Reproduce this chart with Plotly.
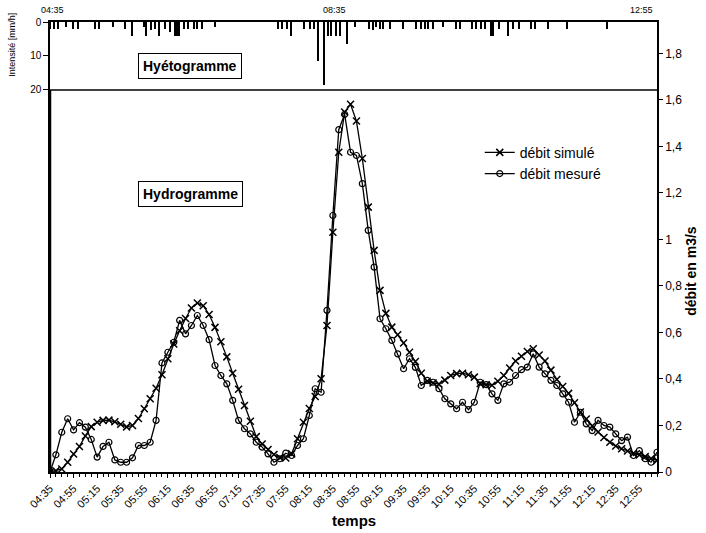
import plotly.graph_objects as go
import pandas as pd

# ---------------- data ----------------
start_time = "2000-01-01 04:35"
n_steps = 104  # 5-minute steps, 04:35 -> 13:10
times = pd.date_range(start_time, periods=n_steps, freq="5min")

debit_simule = [
    0.0, 0.005, 0.013, 0.042, 0.077, 0.11, 0.155, 0.195, 0.214, 0.222,
    0.223, 0.216, 0.205, 0.194, 0.2, 0.23, 0.272, 0.315, 0.36, 0.418,
    0.487, 0.55, 0.607, 0.66, 0.705, 0.727, 0.715, 0.677, 0.622, 0.56,
    0.495, 0.425, 0.356, 0.286, 0.218, 0.152, 0.12, 0.097, 0.075, 0.062,
    0.06, 0.078, 0.143, 0.214, 0.273, 0.325, 0.401, 0.63, 1.031, 1.375,
    1.548, 1.581, 1.509, 1.348, 1.139, 0.953, 0.781, 0.682, 0.623, 0.59,
    0.555, 0.515, 0.475, 0.425, 0.39, 0.383, 0.378, 0.395, 0.415, 0.423,
    0.425, 0.418, 0.408, 0.38, 0.375, 0.373, 0.39, 0.415, 0.447, 0.477,
    0.498, 0.518, 0.53, 0.503, 0.477, 0.438, 0.398, 0.368, 0.338, 0.298,
    0.258, 0.228, 0.198, 0.172, 0.148, 0.128, 0.112, 0.1, 0.09, 0.08,
    0.073, 0.066, 0.058, 0.05,
]

debit_mesure = [
    0.0, 0.074, 0.171, 0.229, 0.181, 0.212, 0.193, 0.14, 0.064, 0.11,
    0.128, 0.052, 0.042, 0.042, 0.061, 0.114, 0.114, 0.128, 0.222, 0.469,
    0.515, 0.558, 0.652, 0.594, 0.63, 0.673, 0.63, 0.569, 0.458, 0.415,
    0.379, 0.308, 0.222, 0.186, 0.164, 0.128, 0.107, 0.078, 0.042, 0.057,
    0.081, 0.071, 0.114, 0.143, 0.243, 0.358, 0.343, 0.695, 1.103, 1.472,
    1.538, 1.375, 1.361, 1.24, 1.039, 0.881, 0.659, 0.616, 0.566, 0.508,
    0.444, 0.487, 0.45, 0.372, 0.394, 0.386, 0.358, 0.315, 0.293, 0.272,
    0.3, 0.268, 0.3, 0.386, 0.376, 0.336, 0.308, 0.379, 0.386, 0.415,
    0.44, 0.451, 0.508, 0.451, 0.422, 0.394, 0.372, 0.336, 0.3, 0.214,
    0.257, 0.207, 0.178, 0.222, 0.2, 0.193, 0.164, 0.135, 0.15, 0.071,
    0.092, 0.057, 0.042, 0.085,
]

hyeto_heure = [
    "04:35", "04:39", "04:42", "04:49", "04:55", "04:59", "05:13", "05:17",
    "05:29", "05:39", "05:45", "05:55", "05:57", "06:01", "06:04", "06:08",
    "06:13", "06:17", "06:21", "06:23", "06:25", "06:29", "06:32", "06:37",
    "06:40", "06:44", "06:55", "07:49", "07:52", "07:56", "08:00", "08:11",
    "08:16", "08:19", "08:23", "08:28", "08:31", "08:34", "08:38", "08:41",
    "08:47", "08:54", "09:06", "09:09", "09:12", "09:15", "09:18", "09:24",
    "09:35", "09:46", "09:50", "09:53", "09:56", "10:00", "10:09", "10:20",
    "10:23", "10:33", "10:37", "10:41", "10:44", "10:49", "10:51", "10:56",
    "11:04", "11:08", "11:13", "11:23", "11:27", "11:38", "11:54", "12:28",
]
hyeto_intensite = [
    2, 2, 2, 1.5, 2, 2, 2, 2,
    1.5, 2, 4, 1.5, 4, 2.5, 2, 4,
    2, 3, 4, 4, 4, 2, 2, 2,
    2, 2, 1.5, 2, 2, 2, 4, 2,
    2, 2, 11.4, 18.4, 4, 4, 4, 4,
    6.5, 1.5, 2, 2.5, 1.5, 2, 2, 2,
    2, 2, 2, 2, 2, 2, 1.5, 2,
    2, 2, 2, 2, 2, 4, 4, 2,
    4, 2, 2, 2, 2, 2, 2, 2,
]

top_labels = ["04:35", "08:35", "12:55"]
hyeto_ticks = [0, 10, 20]

# ---------------- figure ----------------
day = "2000-01-01 "
hyeto_x = [day + h for h in hyeto_heure]
x_range = [times[0], times[-1]]

FONT = "Liberation Sans, Arial, sans-serif"

fig = go.Figure()
fig.add_trace(go.Bar(
    x=hyeto_x, y=hyeto_intensite, xaxis="x", yaxis="y3",
    width=75000, marker=dict(color="black", line=dict(width=0)),
    showlegend=False,
))
fig.add_trace(go.Scatter(
    x=times, y=debit_simule, mode="lines+markers", name="débit simulé",
    line=dict(color="black", width=1.3),
    marker=dict(symbol="x-thin", size=7, color="black",
                line=dict(width=1.5, color="black")),
))
fig.add_trace(go.Scatter(
    x=times, y=debit_mesure, mode="lines+markers", name="débit mesuré",
    line=dict(color="black", width=1.3),
    marker=dict(symbol="circle-open", size=6, color="black",
                line=dict(width=1.2, color="black")),
))

Y_SPLIT = 0.849

annotations = [
    dict(text="<b>Hyétogramme</b>", xref="paper", yref="paper", x=0.231, y=0.902,
         xanchor="center", yanchor="middle",
         showarrow=False, font=dict(size=14), bordercolor="black", borderwidth=1,
         borderpad=4, bgcolor="white"),
    dict(text="<b>Hydrogramme</b>", xref="paper", yref="paper", x=0.231, y=0.618,
         xanchor="center", yanchor="middle",
         showarrow=False, font=dict(size=14), bordercolor="black", borderwidth=1,
         borderpad=4, bgcolor="white"),
    dict(text="<b>temps</b>", xref="paper", yref="paper", x=0.5, y=-0.107,
         xanchor="center", yanchor="middle",
         showarrow=False, font=dict(size=15)),
    dict(text="<b>débit en m3/s</b>", xref="paper", yref="paper", x=1, xshift=34,
         y=0.447, xanchor="center", yanchor="middle", textangle=-90,
         showarrow=False, font=dict(size=14)),
    dict(text="Intensité [mm/h]", xref="paper", yref="paper", x=-0.064,
         y=0.95, xanchor="center", yanchor="middle", textangle=-90,
         showarrow=False, font=dict(size=9)),
]
for lab in top_labels:
    annotations.append(dict(text=lab, xref="x", yref="paper", x=day + lab, y=1,
                            xanchor="center", yanchor="bottom", yshift=5, xshift=2,
                            showarrow=False, font=dict(size=9)))

fig.update_layout(
    width=706, height=533,
    margin=dict(l=50, r=49, t=22, b=61),
    paper_bgcolor="white", plot_bgcolor="white",
    separators=", ",
    font=dict(family=FONT, color="black"),
    showlegend=True,
    legend=dict(x=0.708, y=0.745, xanchor="left", yanchor="top",
                bgcolor="rgba(0,0,0,0)", font=dict(size=14, color="black")),
    xaxis=dict(
        type="date", range=x_range, anchor="y",
        tickformat="%H:%M", tick0=times[0], dtick=1200000,
        tickangle=-45, tickfont=dict(size=11, color="black"),
        ticks="outside", ticklen=4, tickcolor="black",
        minor=dict(dtick=300000, ticks="outside", ticklen=3, tickcolor="black",
                   showgrid=False),
        showline=True, linecolor="black", linewidth=1.5, mirror=True,
        showgrid=False, zeroline=False,
    ),
    yaxis=dict(
        side="right", anchor="x", range=[0, 1.935], tick0=0, dtick=0.2,
        ticks="outside", ticklen=4, tickcolor="black",
        tickfont=dict(size=12, color="black"),
        showline=True, linecolor="black", linewidth=1.5, mirror=True,
        showgrid=False, zeroline=False,
    ),
    yaxis3=dict(
        domain=[Y_SPLIT, 1], anchor="x", side="left", range=[20, 0],
        tickvals=hyeto_ticks, ticks="outside", ticklen=5, tickcolor="black",
        tickfont=dict(size=10, color="black"), showline=True, linecolor="black",
        linewidth=1.5, showgrid=False, zeroline=False,
    ),
    shapes=[
        dict(type="line", xref="paper", yref="paper", x0=0, x1=1,
             y0=Y_SPLIT, y1=Y_SPLIT, line=dict(color="black", width=1.5)),
        dict(type="line", xref="paper", yref="paper", x0=0, x1=0,
             y0=0, y1=Y_SPLIT, line=dict(color="black", width=2.5)),
    ],
    annotations=annotations,
    bargap=0,
)

fig.write_html("out.html")
